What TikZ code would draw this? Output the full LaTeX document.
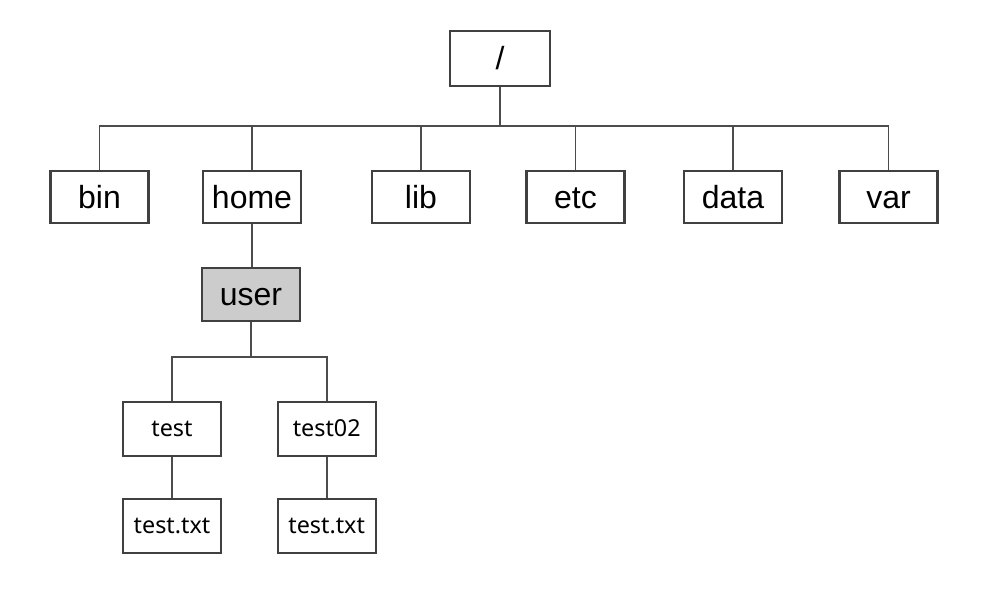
\documentclass[tikz,border=0pt]{standalone}
\usepackage{fontspec}
\setmainfont{Liberation Sans}
\newfontfamily\smallfont{Noto Sans}
\begin{document}
\begin{tikzpicture}[x=0.75pt,y=-0.75pt,
  box/.style={draw=black!75,line width=1.6pt,fill=white,inner sep=0pt,
    minimum width=73.5pt,minimum height=39pt,text height=17pt,text depth=0pt,
    font=\fontsize{24}{28}\selectfont},
  userbox/.style={box,fill=black!20,minimum height=40pt},
  filebox/.style={box,minimum height=40.5pt,text height=11.4pt,text depth=0pt,
    font=\smallfont\fontsize{17.5}{20}\selectfont},
  conn/.style={draw=black!70,line width=1.4pt}]
\useasboundingbox (0,0) rectangle (1000,598);
\node[box,minimum width=75pt,minimum height=41pt] (root) at (500,58.5) {/};
\node[box] (bin)  at (99.5,197) {bin};
\node[box] (home) at (252,197) {home};
\node[box] (lib)  at (421,197) {lib};
\node[box] (etc)  at (575.5,197) {etc};
\node[box] (data) at (733,197) {data};
\node[box] (var)  at (888.5,197) {var};
\node[userbox] (user) at (251,294.5) {user};
\node[filebox] (test)   at (172,429) {test};
\node[filebox] (test02) at (326.7,429) {test02};
\node[filebox] (f1) at (172,526) {test.txt};
\node[filebox] (f2) at (326.7,526) {test.txt};
\coordinate (j0) at (500,126);
\coordinate (j1) at (251,357);
\draw[conn] (root.south) -- (j0);
\draw[conn] (bin.north) |- (j0) -| (var.north);
\foreach \n in {home,lib,etc,data} \draw[conn] (\n.north) -- (\n.north |- j0);
\draw[conn] (home.south) -- (home.south |- user.north);
\draw[conn] (user.south) -- (j1);
\draw[conn] (test.north) |- (j1) -| (test02.north);
\draw[conn] (test.south) -- (f1.north);
\draw[conn] (test02.south) -- (f2.north);
\end{tikzpicture}
\end{document}
